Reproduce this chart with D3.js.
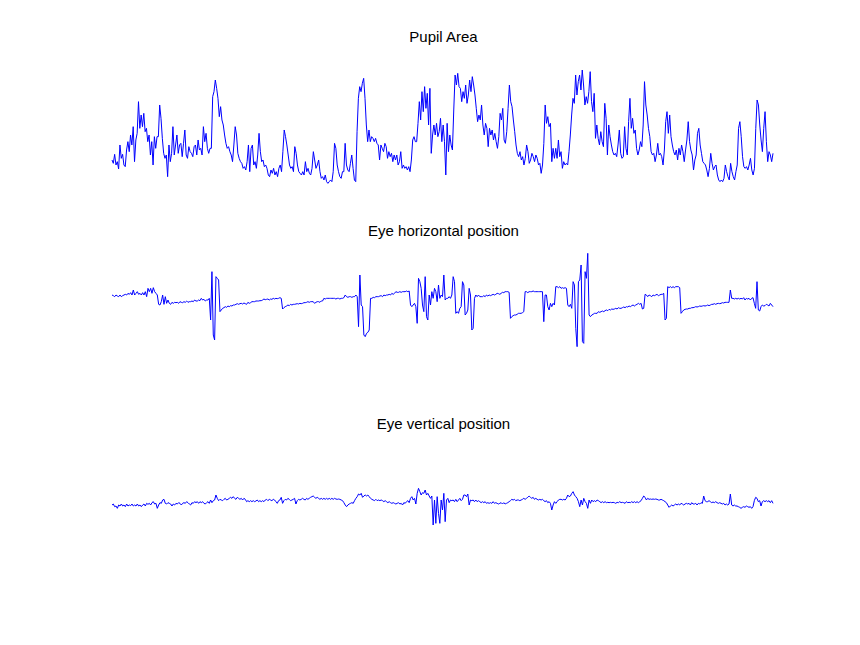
<!DOCTYPE html>
<html>
<head>
<meta charset="utf-8">
<script src="https://cdn.jsdelivr.net/npm/d3@7"></script>
<style>
  html, body { margin: 0; padding: 0; background: #fff; }
  svg { display: block; }
  text { font-family: "Liberation Sans", Arial, Helvetica, sans-serif; }
</style>
</head>
<body>
<svg id="chart" width="860" height="645"></svg>
<script>
// ---- Data (arbitrary units) ----
const titles = ["Pupil Area", "Eye horizontal position", "Eye vertical position"];

const pupilArea = [
115,105,132,100,110,88,160,120,132,100,95,145,170,140,190,160,215,110,175,195,290,210,250,215,255,200,210,170,190,130,170,100,185,150,185,185,280,240,180,135,120,130,65,160,110,135,215,130,160,190,135,160,165,125,165,205,130,120,155,140,135,125,155,160,130,175,145,150,130,215,170,195,150,135,150,150,305,320,355,330,300,245,275,235,220,190,165,150,155,140,130,110,160,215,190,135,120,110,105,90,95,85,110,160,80,150,160,100,110,90,130,195,140,110,115,95,100,90,70,65,85,75,90,70,80,65,90,100,80,140,205,185,160,130,100,90,95,80,155,135,100,80,75,70,80,70,110,80,90,75,70,90,140,115,90,100,115,80,60,65,55,70,50,45,50,55,50,80,165,
150,100,80,65,60,80,80,165,100,85,80,105,130,90,55,50,200,300,335,320,345,360,300,220,170,205,170,185,180,170,180,165,160,115,160,150,140,165,155,120,140,125,135,110,130,115,130,100,110,140,90,100,90,95,85,95,80,115,175,185,170,170,225,290,235,320,260,335,270,315,220,330,135,190,220,190,225,185,200,240,170,220,170,70,225,140,190,160,145,265,370,340,375,335,330,290,320,300,340,285,310,355,320,365,340,310,270,230,250,235,280,220,190,225,210,155,210,190,205,175,195,170,150,185,255,235,270,175,165,200,270,340,290,275,235,200,160,135,125,140,115,125,100,120,160,140,105,115,135,125,110,130,120,100,105,75,100,165,280,225,245,215,225,110,150,120,150,120,175,125,140,
90,110,100,105,100,140,190,250,300,285,370,310,350,370,325,385,340,280,305,285,320,380,290,260,315,180,220,180,160,200,170,155,285,240,130,220,185,160,140,130,135,125,160,205,135,120,125,215,150,130,230,300,210,240,195,205,150,130,145,170,155,220,350,280,250,210,185,140,130,135,110,130,165,130,135,125,100,145,230,260,195,250,185,160,140,130,145,115,150,130,160,140,110,145,175,230,170,145,130,85,115,130,195,210,160,135,110,105,100,85,65,90,135,105,85,95,100,70,55,50,55,50,60,100,80,65,55,105,80,65,55,80,100,210,230,185,125,95,90,95,85,100,120,85,70,90,210,295,280,220,175,140,210,260,170,110,140,130,110,135
];

const eyeHorizontal = [
150,148,145,150,147,145,150,145,148,150,152,150,155,152,157,150,165,150,155,160,152,155,150,157,150,160,145,170,160,170,155,172,160,155,150,122,120,130,150,122,145,125,135,125,122,128,125,128,127,128,125,130,128,127,130,128,132,128,130,130,132,130,135,132,132,135,133,140,135,137,132,135,135,140,75,220,30,15,205,200,195,100,105,110,112,115,113,117,115,118,117,120,120,122,124,122,124,125,123,126,124,122,128,125,127,130,130,130,132,132,132,133,133,135,138,136,137,138,135,138,137,140,138,140,139,140,142,140,108,112,115,117,120,118,122,120,122,122,123,124,123,125,124,125,127,127,128,130,128,130,130,130,125,128,130,130,128,132,132,140,138,140,140,140,140,140,140,140,
138,140,140,138,140,140,142,150,145,143,145,145,143,145,145,150,145,55,210,120,115,30,25,35,38,45,140,140,143,142,145,145,145,147,148,145,150,148,150,150,152,150,155,152,155,160,158,158,160,158,160,160,160,162,160,162,120,115,120,125,115,65,200,190,170,120,100,205,85,75,150,120,160,140,170,160,130,180,140,150,145,210,135,140,140,145,140,150,205,190,95,100,95,110,115,190,180,90,95,105,170,150,45,50,140,150,145,150,145,145,145,148,145,150,147,150,148,150,152,150,152,155,154,152,155,158,157,160,160,160,158,80,85,88,90,90,92,95,95,95,97,100,160,160,157,160,160,160,162,160,160,160,160,160,160,160,70,150,150,115,105,125,115,125,120,175,175,172,175,
170,172,170,172,170,120,115,122,110,190,180,50,-5,190,195,240,10,5,220,200,275,90,85,90,92,95,95,95,100,98,100,102,100,103,105,103,107,105,108,107,108,110,108,112,110,110,112,114,112,115,114,117,115,118,120,117,120,122,125,122,125,108,110,152,150,145,150,148,145,150,148,150,152,148,150,152,152,155,75,80,175,172,175,172,175,172,175,175,175,172,95,100,105,107,108,108,110,110,112,112,113,115,114,115,117,116,117,118,117,118,120,118,120,122,122,124,122,124,125,124,125,127,126,128,128,128,128,165,140,140,138,140,138,140,138,140,138,142,135,140,138,140,135,140,142,125,110,190,105,102,115,120,117,118,122,120,117,125,120,115
];

const eyeVertical = [
75,78,70,72,65,75,72,78,72,75,70,78,72,75,73,78,72,75,72,78,72,75,70,75,78,72,80,77,80,75,82,85,78,80,65,75,82,80,90,92,80,78,82,80,78,72,78,75,80,78,82,80,75,80,82,80,85,82,78,75,82,80,85,82,85,80,85,82,85,80,78,82,85,80,90,82,88,90,105,95,88,92,90,88,92,95,90,92,95,98,95,100,95,92,98,95,92,95,90,95,92,85,88,85,88,85,88,85,87,90,85,88,85,88,85,90,92,88,92,90,88,92,90,85,80,88,90,98,80,88,92,90,95,92,88,90,92,95,78,88,92,90,92,95,92,90,95,92,95,98,100,102,98,95,98,95,92,95,92,95,92,95,92,95,92,95,92,95,
93,92,93,92,90,88,82,75,70,75,78,80,82,80,88,95,100,108,105,110,98,102,105,102,105,100,95,92,90,88,92,88,90,88,90,88,85,88,85,82,85,82,80,82,80,78,80,82,78,80,75,82,80,85,88,82,95,100,90,95,78,110,125,115,105,112,110,120,105,110,102,95,102,15,90,20,100,50,20,90,60,110,25,90,95,82,90,88,90,85,92,85,90,95,88,92,105,105,100,108,75,90,88,90,85,90,85,88,85,82,85,82,85,80,82,80,82,80,85,80,82,80,78,80,82,78,82,78,80,82,85,88,92,90,92,88,90,90,88,90,92,95,92,95,98,102,98,95,98,92,95,92,90,92,90,92,88,85,88,82,85,80,60,75,85,80,85,90,92,
92,90,92,90,95,105,100,102,110,115,105,100,95,85,70,90,75,95,85,80,65,90,80,90,85,88,85,90,88,85,82,85,82,85,82,83,82,83,82,83,82,80,83,82,85,82,83,82,80,85,82,83,82,85,82,85,82,85,82,85,88,95,102,98,90,95,92,93,92,93,92,93,92,90,90,92,90,88,85,82,75,68,72,75,72,75,78,75,78,75,80,78,75,78,80,78,80,75,82,78,78,80,75,80,78,82,80,102,88,85,85,88,85,82,84,82,85,82,80,82,80,78,80,75,78,75,78,108,75,72,75,72,72,70,68,65,68,70,68,72,70,68,70,65,70,88,98,95,85,88,72,85,88,85,88,85,88,82,88,80
];

// ---- Panel definitions (layout only) ----
const panels = [
  { title: titles[0], data: pupilArea,     domain: [0, 400], top: 65,  bottom: 198.33, titleY: 42 },
  { title: titles[1], data: eyeHorizontal, domain: [0, 300], top: 245, bottom: 345,    titleY: 236 },
  { title: titles[2], data: eyeVertical,   domain: [0, 150], top: 480, bottom: 530,    titleY: 429 }
];

const xLeft = 112, xRight = 773;
const svg = d3.select("#chart");
svg.append("rect").attr("width", 860).attr("height", 645).attr("fill", "#fff");

panels.forEach(p => {
  const x = d3.scaleLinear().domain([0, p.data.length - 1]).range([xLeft, xRight]);
  const y = d3.scaleLinear().domain(p.domain).range([p.bottom, p.top]);
  const line = d3.line().x((d, i) => x(i)).y(d => y(d));
  svg.append("path")
    .datum(p.data)
    .attr("d", line)
    .attr("fill", "none")
    .attr("stroke", "#0000ff")
    .attr("stroke-width", 1)
    .attr("stroke-linejoin", "miter");
  svg.append("text")
    .attr("x", (xLeft + xRight) / 2 + 1)
    .attr("y", p.titleY)
    .attr("text-anchor", "middle")
    .attr("font-size", 15)
    .attr("fill", "#000")
    .text(p.title);
});
</script>
</body>
</html>
